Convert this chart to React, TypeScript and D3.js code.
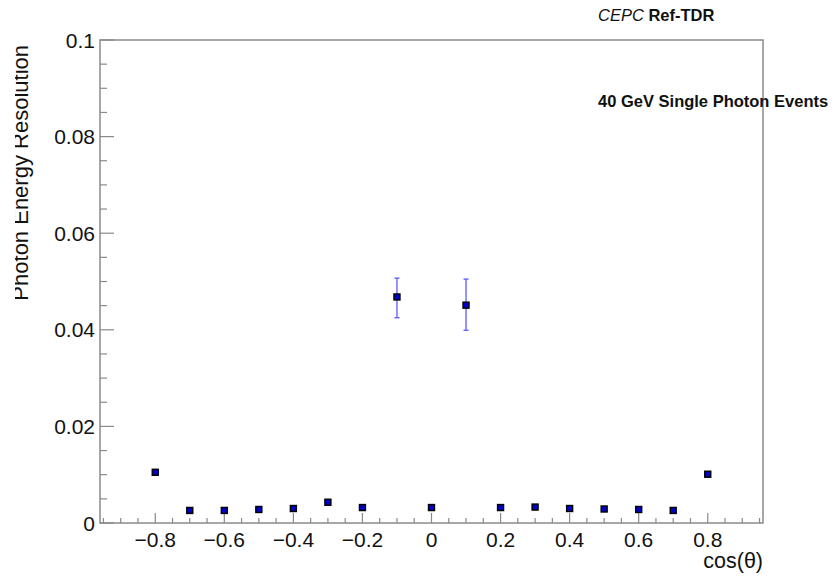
import React from "react";
import * as d3 from "d3";

const cosTheta = [-0.8, -0.7, -0.6, -0.5, -0.4, -0.3, -0.2, -0.1, 0, 0.1, 0.2, 0.3, 0.4, 0.5, 0.6, 0.7, 0.8];
const resolution = [0.0105, 0.0026, 0.0026, 0.0028, 0.0030, 0.0043, 0.0032, 0.0468, 0.0032, 0.0451, 0.0032, 0.0033, 0.0030, 0.0029, 0.0028, 0.0026, 0.0101];
const errLow = [0, 0, 0, 0, 0, 0, 0, 0.0043, 0, 0.0052, 0, 0, 0, 0, 0, 0, 0];
const errHigh = [0, 0, 0, 0, 0, 0, 0, 0.0039, 0, 0.0054, 0, 0, 0, 0, 0, 0, 0];
const xTickLabels = [-0.8, -0.6, -0.4, -0.2, 0, 0.2, 0.4, 0.6, 0.8];
const yTickLabels = [0, 0.02, 0.04, 0.06, 0.08, 0.1];

const W = 834, H = 576;
const L = 100, R = 763, T = 40, B = 523;

export default function App() {
  const x = d3.scaleLinear().domain([-0.96, 0.96]).range([L, R]);
  const y = d3.scaleLinear().domain([0, 0.1]).range([B, T]);
  const xMinor = d3.range(-0.95, 0.951, 0.05).map((v) => Math.round(v * 100) / 100);
  const yMinor = d3.range(0, 0.1001, 0.005).map((v) => Math.round(v * 1000) / 1000);
  const fmt = (v: number) => (v === 0 ? "0" : (v < 0 ? "\u2212" : "") + String(Math.abs(v)).replace(/^0?\./, "0."));
  const axisColor = "#8a8a8a";
  const font = "'Liberation Sans', Arial, Helvetica, sans-serif";
  return (
    <svg width={W} height={H} style={{ position: "absolute", left: 0, top: 0, background: "#fff" }} fontFamily={font}>
      <defs>
        <clipPath id="ylab">
          <rect x={15} y={0} width={40} height={H} />
        </clipPath>
      </defs>
      <rect x={0} y={0} width={W} height={H} fill="#fff" />
      <rect x={L} y={T} width={R - L} height={B - T} fill="none" stroke={axisColor} strokeWidth={1.5} />
      {xMinor.map((v, i) => {
        const major = xTickLabels.some((t) => Math.abs(t - v) < 1e-6);
        return <line key={"xm" + i} x1={x(v)} x2={x(v)} y1={B} y2={B - (major ? 10 : 5)} stroke={axisColor} strokeWidth={1.2} />;
      })}
      {yMinor.map((v, i) => {
        const major = yTickLabels.some((t) => Math.abs(t - v) < 1e-6);
        return <line key={"ym" + i} x1={L} x2={L + (major ? 14 : 7)} y1={y(v)} y2={y(v)} stroke={axisColor} strokeWidth={1.2} />;
      })}
      {xTickLabels.map((v, i) => (
        <text key={"xl" + i} x={x(v)} y={547} textAnchor="middle" fontSize={21} fill="#111">{fmt(v)}</text>
      ))}
      {yTickLabels.map((v, i) => (
        <text key={"yl" + i} x={95} y={y(v) + 7.5} textAnchor="end" fontSize={21} fill="#111">{fmt(v)}</text>
      ))}
      <text x={R} y={568} textAnchor="end" fontSize={21.5} fill="#111">cos(θ)</text>
      <g clipPath="url(#ylab)">
        <text transform={`translate(28,45) rotate(-90)`} textAnchor="end" fontSize={22} fill="#111">Photon Energy Resolution</text>
      </g>
      {cosTheta.map((c, i) =>
        errLow[i] > 0 || errHigh[i] > 0 ? (
          <g key={"e" + i} stroke="#5a5aff" strokeWidth={1.3}>
            <line x1={x(c)} x2={x(c)} y1={y(resolution[i] - errLow[i])} y2={y(resolution[i] + errHigh[i])} />
            <line x1={x(c) - 2.5} x2={x(c) + 2.5} y1={y(resolution[i] - errLow[i])} y2={y(resolution[i] - errLow[i])} />
            <line x1={x(c) - 2.5} x2={x(c) + 2.5} y1={y(resolution[i] + errHigh[i])} y2={y(resolution[i] + errHigh[i])} />
          </g>
        ) : null
      )}
      {cosTheta.map((c, i) => (
        <rect key={"p" + i} x={x(c) - 3} y={y(resolution[i]) - 3} width={6} height={6} fill="#0000c8" stroke="#000" strokeWidth={1.4} />
      ))}
      <text x={598} y={21} fontSize={16.5} fill="#111">
        <tspan fontStyle="italic">CEPC</tspan>
        <tspan fontWeight="bold"> Ref-TDR</tspan>
      </text>
      <text x={598} y={107} fontSize={16.5} fontWeight="bold" fill="#111">40 GeV Single Photon Events</text>
    </svg>
  );
}
